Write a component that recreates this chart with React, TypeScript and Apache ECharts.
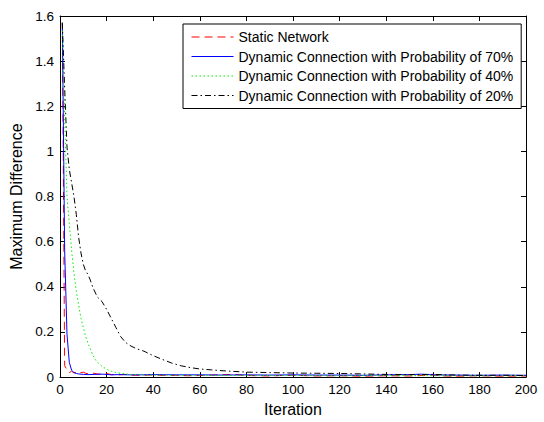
import React, { useEffect, useRef } from "react";
import * as echarts from "echarts";

const xTicks = { min: 0, max: 200, interval: 20 };
const yTicks = { min: 0, max: 1.6, interval: 0.2 };

const seriesNames = [
  "Static Network",
  "Dynamic Connection with Probability of 70%",
  "Dynamic Connection with Probability of 40%",
  "Dynamic Connection with Probability of 20%",
];

const staticIter = [1, 2, 3, 4, 5, 6, 7, 8, 9, 10, 11, 12, 14, 16, 18, 20, 22, 25, 28, 30, 35, 40, 45, 50, 55, 60, 65, 70, 75, 80, 85, 90, 95, 100, 110, 120, 130, 140, 150, 155, 160, 165, 170, 180, 190, 200];
const staticVal = [1.57, 0.05, 0.032, 0.02, 0.026, 0.018, 0.022, 0.016, 0.02, 0.022, 0.017, 0.015, 0.018, 0.014, 0.012, 0.016, 0.011, 0.01, 0.012, 0.009, 0.008, 0.01, 0.007, 0.008, 0.006, 0.007, 0.009, 0.011, 0.012, 0.007, 0.006, 0.005, 0.007, 0.008, 0.005, 0.006, 0.004, 0.006, 0.005, 0.007, 0.009, 0.005, 0.004, 0.006, 0.004, 0.005];

const p70Iter = [1, 2, 3, 4, 5, 6, 7, 8, 10, 12, 15, 18, 20, 22, 25, 30, 35, 40, 50, 60, 70, 80, 90, 100, 110, 120, 130, 140, 150, 155, 160, 170, 180, 190, 200];
const p70Val = [1.57, 0.56, 0.19, 0.065, 0.03, 0.02, 0.016, 0.014, 0.012, 0.011, 0.012, 0.013, 0.012, 0.01, 0.011, 0.01, 0.01, 0.011, 0.01, 0.01, 0.009, 0.01, 0.009, 0.01, 0.009, 0.009, 0.008, 0.01, 0.011, 0.013, 0.01, 0.009, 0.008, 0.009, 0.008];

const p40Iter = [1, 2, 3, 4, 5, 6, 7, 8, 9, 10, 11, 12, 13, 14, 15, 16, 18, 20, 22, 24, 26, 28, 30, 35, 40, 50, 60, 70, 80, 90, 100, 120, 140, 160, 180, 200];
const p40Val = [1.57, 1.15, 0.8, 0.68, 0.56, 0.46, 0.38, 0.32, 0.26, 0.22, 0.18, 0.15, 0.125, 0.1, 0.08, 0.066, 0.048, 0.035, 0.026, 0.02, 0.017, 0.014, 0.012, 0.01, 0.009, 0.008, 0.008, 0.007, 0.008, 0.007, 0.007, 0.006, 0.007, 0.006, 0.006, 0.006];

const p20Iter = [1, 2, 3, 4, 5, 6, 7, 8, 9, 10, 11, 12, 13, 14, 16, 18, 20, 22, 24, 26, 28, 30, 33, 36, 40, 44, 48, 52, 56, 60, 65, 70, 80, 90, 100, 110, 120, 130, 140, 150, 160, 170, 180, 190, 200];
const p20Val = [1.57, 1.28, 1.02, 0.92, 0.86, 0.8, 0.72, 0.62, 0.55, 0.5, 0.47, 0.455, 0.43, 0.4, 0.355, 0.335, 0.3, 0.26, 0.22, 0.18, 0.155, 0.14, 0.125, 0.115, 0.095, 0.078, 0.062, 0.05, 0.042, 0.036, 0.032, 0.028, 0.022, 0.02, 0.018, 0.017, 0.016, 0.014, 0.012, 0.011, 0.012, 0.009, 0.008, 0.008, 0.007];

const FONT = "'Liberation Sans', Arial, Helvetica, sans-serif";

function zip(xs: number[], ys: number[]) {
  return xs.map((x, i) => [x, ys[i]]);
}

export default function App() {
  const ref = useRef<HTMLDivElement>(null);
  useEffect(() => {
    if (!ref.current) return;
    const chart = echarts.init(ref.current, undefined, { renderer: "svg" });
    const axisLine = { show: true, onZero: false, lineStyle: { color: "#000", width: 1 } };
    const tick = { show: true, inside: true, length: 5, lineStyle: { color: "#000", width: 1 } };
    const mk = (name: string, data: number[][], color: string, type: any) => ({
      name,
      type: "line",
      data,
      showSymbol: false,
      symbol: "none",
      lineStyle: { color, width: 1, type },
      itemStyle: { color },
      z: 3,
    });
    chart.setOption({
      animation: false,
      backgroundColor: "#fff",
      textStyle: { fontFamily: FONT },
      grid: { left: 60, right: 18, top: 16, bottom: 38 },
      legend: {
        orient: "vertical",
        left: 183,
        top: 24,
        padding: [6, 8, 6, 8],
        itemWidth: 42,
        itemHeight: 14,
        itemGap: 5.5,
        backgroundColor: "#fff",
        borderColor: "#000",
        borderWidth: 1,
        borderRadius: 0,
        itemStyle: { opacity: 0 },
        lineStyle: { width: 1 },
        textStyle: { fontSize: 14, color: "#000", fontFamily: FONT },
        data: seriesNames,
      },
      xAxis: [
        {
          type: "value",
          position: "bottom",
          ...xTicks,
          name: "Iteration",
          nameLocation: "middle",
          nameGap: 22,
          nameTextStyle: { fontSize: 16, color: "#000", fontFamily: FONT },
          axisLine,
          axisTick: tick,
          axisLabel: { margin: 5, fontSize: 13.5, color: "#000", fontFamily: FONT },
          splitLine: { show: false },
        },
        {
          type: "value",
          position: "top",
          ...xTicks,
          axisLine,
          axisTick: tick,
          axisLabel: { show: false },
          splitLine: { show: false },
        },
      ],
      yAxis: [
        {
          type: "value",
          position: "left",
          ...yTicks,
          name: "Maximum Difference",
          nameLocation: "middle",
          nameGap: 33,
          nameTextStyle: { fontSize: 16, color: "#000", fontFamily: FONT },
          axisLine,
          axisTick: tick,
          axisLabel: {
            margin: 6,
            fontSize: 13.5,
            color: "#000",
            fontFamily: FONT,
            formatter: (v: number) => String(Math.round(v * 10) / 10),
          },
          splitLine: { show: false },
        },
        {
          type: "value",
          position: "right",
          ...yTicks,
          axisLine,
          axisTick: tick,
          axisLabel: { show: false },
          splitLine: { show: false },
        },
      ],
      series: [
        mk(seriesNames[0], zip(staticIter, staticVal), "#ff0000", [8, 5]),
        mk(seriesNames[1], zip(p70Iter, p70Val), "#0000ff", "solid"),
        mk(seriesNames[2], zip(p40Iter, p40Val), "#00ee00", [1.5, 2.5]),
        mk(seriesNames[3], zip(p20Iter, p20Val), "#000000", [6, 3, 1.5, 3]),
      ],
    });
    return () => chart.dispose();
  }, []);
  return (
    <div
      ref={ref}
      style={{ position: "fixed", left: 0, top: 0, width: 544, height: 422, background: "#fff" }}
    />
  );
}
